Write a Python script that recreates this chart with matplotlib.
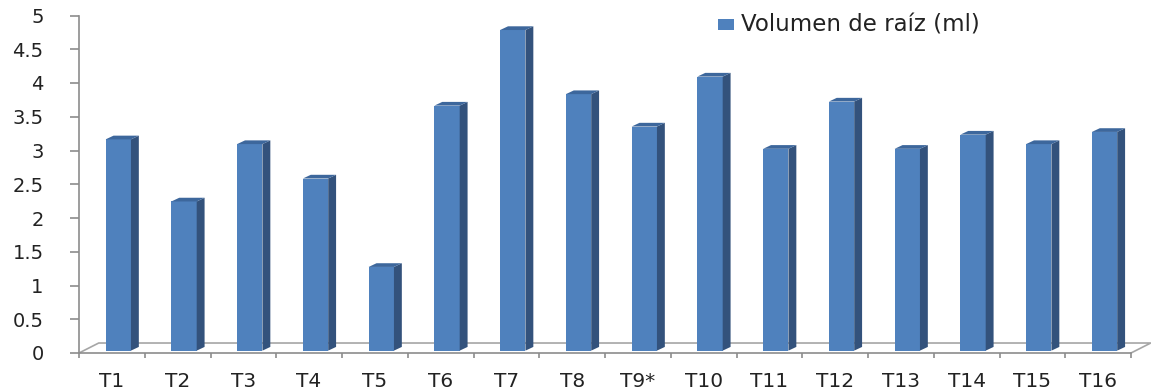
import matplotlib
matplotlib.use("Agg")
import matplotlib.pyplot as plt
from matplotlib.patches import Polygon, Rectangle

categories = ["T1", "T2", "T3", "T4", "T5", "T6", "T7", "T8", "T9*", "T10",
              "T11", "T12", "T13", "T14", "T15", "T16"]
volumen = [3.13, 2.21, 3.06, 2.55, 1.24, 3.63, 4.75, 3.80, 3.32, 4.06,
           2.99, 3.69, 2.99, 3.20, 3.06, 3.24]
yticks = [0, 0.5, 1, 1.5, 2, 2.5, 3, 3.5, 4, 4.5, 5]
ytick_labels = ["0", "0.5", "1", "1.5", "2", "2.5", "3", "3.5", "4", "4.5", "5"]
legend_label = "Volumen de raíz (ml)"

W, H = 1151, 391
fig = plt.figure(figsize=(W / 100, H / 100), dpi=100)
plt.rcParams['font.family'] = ['DejaVu Sans']

x0, x1 = 79, 1131
y0, y5 = 353, 15.5
ax = fig.add_axes([x0 / W, (H - y0) / H, (x1 - x0) / W, (y0 - y5) / H])
n = len(categories)
ax.set_xlim(0, n)
ax.set_ylim(0, 5)

front = '#4F81BD'
side = '#33527C'
top = '#3D679C'
grey = '#A6A6A6'

base = 0.035
width = 0.385
offset = 0.405
dx = 0.12
dy = 0.055

xs = [i + offset for i in range(n)]
ax.bar(xs, volumen, width=width, bottom=base, align='edge', color=front,
       edgecolor='none', zorder=3, clip_on=False)
for xl, v in zip(xs, volumen):
    xr = xl + width
    yt = base + v
    ax.add_patch(Polygon([(xr, base), (xr + dx, base + dy), (xr + dx, yt + dy), (xr, yt)],
                         closed=True, facecolor=side, edgecolor='none', zorder=3, clip_on=False))
    ax.add_patch(Polygon([(xl, yt), (xr, yt), (xr + dx, yt + dy), (xl + dx, yt + dy)],
                         closed=True, facecolor=top, edgecolor='none', zorder=3, clip_on=False))

# floor
fb = 0.148
ax.plot([0, 0.3, n + 0.3, n], [0, fb, fb, 0], color=grey, lw=1.2, zorder=2, clip_on=False)

for s in ['top', 'right']:
    ax.spines[s].set_visible(False)
for s in ['left', 'bottom']:
    ax.spines[s].set_color('#8C8C8C')
    ax.spines[s].set_linewidth(1.2)

ax.set_yticks(yticks)
ax.set_yticklabels(ytick_labels, fontsize=14, color='#222222')
ax.tick_params(axis='y', length=6.5, width=1.2, color='#8C8C8C', pad=19)

ax.set_xticks(range(n + 1))
ax.set_xticklabels([])
ax.tick_params(axis='x', length=3.8, width=1.2, color='#8C8C8C')
for i, c in enumerate(categories):
    ax.text(i + 0.5, -0.28, c, ha='center', va='top', fontsize=14.5,
            color='#222222', clip_on=False)

# legend
fig.patches.append(Rectangle((718 / W, (H - 30) / H), 16 / W, 11 / H,
                             transform=fig.transFigure, facecolor=front, edgecolor='none'))
fig.text(741 / W, (H - 24.5) / H, legend_label, ha='left', va='center',
         fontsize=16.5, color='#222222')

fig.savefig('out.png', dpi=100)
